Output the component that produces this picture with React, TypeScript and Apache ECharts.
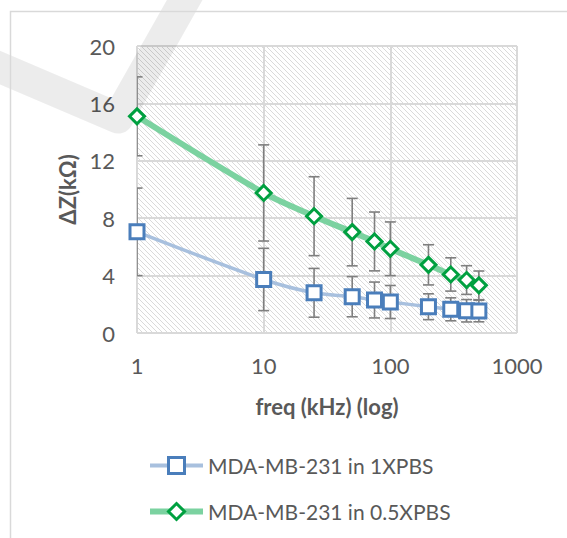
import React, { useEffect, useRef } from "react";
import * as echarts from "echarts";

const freqs = [1, 10, 25, 50, 75, 100, 200, 300, 400, 500];
const pbs1 = [7.05, 3.73, 2.8, 2.53, 2.3, 2.16, 1.83, 1.65, 1.55, 1.53];
const pbs1Err = [3.05, 2.17, 1.7, 1.4, 1.25, 1.15, 0.9, 0.8, 0.78, 0.75];
const pbs05 = [15.1, 9.76, 8.14, 7.03, 6.38, 5.87, 4.75, 4.08, 3.69, 3.32];
const pbs05Err = [2.75, 3.35, 2.75, 2.35, 2.05, 1.87, 1.4, 1.16, 1.0, 1.0];
const seriesNames = ["MDA-MB-231 in 1XPBS", "MDA-MB-231 in 0.5XPBS"];
const yTicks = [0, 4, 8, 12, 16, 20];

const FONT = "Lato";
const TXT = "#595959";
const BLUE_LINE = "#a8c0de";
const BLUE_MARK = "#4a7ebb";
const GREEN_LINE = "#7bd2a0";
const GREEN_MARK = "#00a040";

function makeHatch() {
  const c = document.createElement("canvas");
  const s = 5;
  c.width = s;
  c.height = s;
  const ctx = c.getContext("2d")!;
  ctx.fillStyle = "#ffffff";
  ctx.fillRect(0, 0, s, s);
  for (let i = 0; i < s; i++) {
    ctx.fillStyle = "#dadada";
    ctx.fillRect(i, i, 1, 1);
  }
  return c;
}

function errData(vals: number[], errs: number[]) {
  return freqs.map((f, i) => [f, vals[i] - errs[i], vals[i] + errs[i]]);
}

function errSeries(name: string, vals: number[], errs: number[]) {
  return {
    type: "custom",
    name,
    z: 3,
    clip: true,
    data: errData(vals, errs),
    encode: { x: 0, y: [1, 2] },
    renderItem: (params: any, api: any) => {
      const x = api.value(0);
      const hi = api.coord([x, api.value(2)]);
      const lo = api.coord([x, api.value(1)]);
      const hw = 5.5;
      const style = { stroke: "#7f7f7f", lineWidth: 1.6 };
      return {
        type: "group",
        children: [
          { type: "line", shape: { x1: hi[0], y1: hi[1], x2: lo[0], y2: lo[1] }, style },
          { type: "line", shape: { x1: hi[0] - hw, y1: hi[1], x2: hi[0] + hw, y2: hi[1] }, style },
          { type: "line", shape: { x1: lo[0] - hw, y1: lo[1], x2: lo[0] + hw, y2: lo[1] }, style },
        ],
      };
    },
  };
}

export default function App() {
  const ref = useRef<HTMLDivElement>(null);
  useEffect(() => {
    document.body.style.margin = "0";
    const chart = echarts.init(ref.current!, null, { renderer: "svg" });
    const hatch = makeHatch();
    chart.setOption({
      animation: false,
      backgroundColor: "#ffffff",
      textStyle: { fontFamily: FONT },
      grid: {
        left: 137,
        right: 50,
        top: 46,
        bottom: 205,
        show: true,
        borderWidth: 0,
        backgroundColor: { image: hatch, repeat: "repeat" },
      },
      graphic: [
        {
          type: "rect",
          z: 10,
          silent: true,
          shape: { x: 10.5, y: 11.5, width: 620, height: 620 },
          style: { fill: "none", stroke: "#d9d9d9", lineWidth: 1.5 },
        },
        {
          type: "polyline",
          z: 1,
          silent: true,
          shape: { points: [[-25, 57], [118, 118], [196, -20]] },
          style: {
            fill: "none",
            stroke: "#000000",
            opacity: 0.075,
            lineWidth: 31,
            lineJoin: "round",
          },
        },
      ],
      legend: {
        orient: "vertical",
        left: 147,
        top: 455,
        padding: 0,
        itemWidth: 53,
        itemHeight: 20,
        itemGap: 25,
        data: [
          {
            name: seriesNames[0],
            lineStyle: { width: 4, color: BLUE_LINE },
            itemStyle: { borderWidth: 3, borderColor: BLUE_MARK, color: "#ffffff" },
          },
          {
            name: seriesNames[1],
            lineStyle: { width: 6, color: GREEN_LINE },
            itemStyle: { borderWidth: 3, borderColor: GREEN_MARK, color: "#ffffff" },
          },
        ],
        textStyle: { fontFamily: FONT, fontSize: 21, color: TXT },
      },
      xAxis: {
        type: "log",
        logBase: 10,
        min: 1,
        max: 1000,
        axisLine: { show: false },
        axisTick: { show: false },
        splitLine: { show: true, lineStyle: { color: "#d9d9d9", width: 2 } },
        axisLabel: {
          fontSize: 22,
          color: TXT,
          margin: 21,
          fontFamily: FONT,
          formatter: (v: number) => String(Math.round(v)),
        },
        name: "freq (kHz) (log)",
        nameLocation: "middle",
        nameGap: 62,
        nameTextStyle: { fontSize: 22, fontWeight: "bold", color: TXT, fontFamily: FONT },
      },
      yAxis: {
        type: "value",
        min: yTicks[0],
        max: yTicks[yTicks.length - 1],
        interval: yTicks[1] - yTicks[0],
        axisLine: { show: false },
        axisTick: { show: false },
        splitLine: { show: true, lineStyle: { color: "#d9d9d9", width: 2 } },
        axisLabel: { fontSize: 22, color: TXT, margin: 22, fontFamily: FONT },
        name: "ΔZ(kΩ)",
        nameLocation: "middle",
        nameGap: 55,
        nameTextStyle: { fontSize: 22, fontWeight: "bold", color: TXT, fontFamily: FONT },
      },
      series: [
        errSeries("err1", pbs1, pbs1Err),
        errSeries("err05", pbs05, pbs05Err),
        {
          type: "line",
          name: seriesNames[0],
          z: 4,
          smooth: 0.3,
          data: freqs.map((f, i) => [f, pbs1[i]]),
          symbol: "rect",
          symbolSize: 14,
          showAllSymbol: true,
          lineStyle: { color: BLUE_LINE, width: 3.5 },
          itemStyle: { color: "#ffffff", borderColor: BLUE_MARK, borderWidth: 3 },
        },
        {
          type: "line",
          name: seriesNames[1],
          z: 5,
          smooth: 0.3,
          data: freqs.map((f, i) => [f, pbs05[i]]),
          symbol: "diamond",
          symbolSize: 15,
          showAllSymbol: true,
          lineStyle: { color: GREEN_LINE, width: 6 },
          itemStyle: { color: "#ffffff", borderColor: GREEN_MARK, borderWidth: 3 },
        },
      ],
    });
    return () => chart.dispose();
  }, []);
  return <div ref={ref} style={{ width: 567, height: 538 }} />;
}
